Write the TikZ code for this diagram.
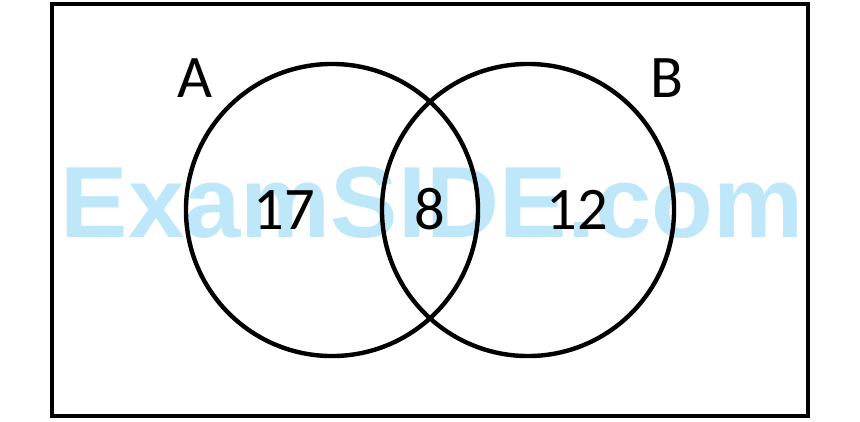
\documentclass[tikz,border=0pt]{standalone}
\usepackage{fontspec}
\setmainfont{Carlito}
\newfontfamily\markfont{Liberation Sans}
\usetikzlibrary{positioning}
\definecolor{markblue}{RGB}{190,232,250}

\begin{document}
\begin{tikzpicture}[x=0.025cm, y=-0.025cm]
			\tikzstyle{set} = [draw, circle, line width=1.1mm, minimum size=7.3cm, inner sep=0pt]
			\tikzstyle{num} = [font=\fontsize{43}{43}\selectfont, inner sep=0pt]
			\tikzstyle{lbl} = [font=\fontsize{43}{43}\selectfont, inner sep=0pt]
			\useasboundingbox (0,0) rectangle (860,421);
			
			% watermark behind everything
			\node [font=\markfont\bfseries\fontsize{72}{72}\selectfont, text=markblue, inner sep=0pt] (mark) at (432,203) {ExamSIDE.com};
			
			\node [draw, line width=1.1mm, minimum width=18.9cm, minimum height=10.3cm] (U) at (430,210) {};
			\node [set] (A) at (332,210) {};
			\node [set] (B) at (528,210) {};
			
			\node [lbl] (la) at (195,78) {A};
			\node [lbl] (lb) at (667,78) {B};
			
			\node [num] (nA) at (284,210) {17};
			\node [num] (nAB) at (430,209) {8};
			\node [num] (nB) at (577,210) {12};
\end{tikzpicture}
\end{document}
